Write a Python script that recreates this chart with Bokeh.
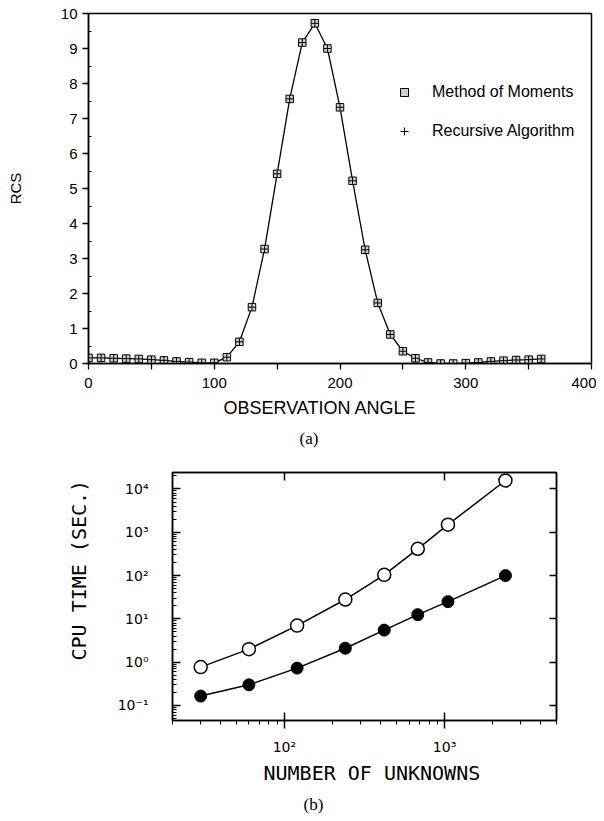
from bokeh.plotting import figure
from bokeh.models import (Range1d, FixedTicker, CustomJSTickFormatter, Legend,
                          LegendItem, Title, LogAxis)
from bokeh.embed import file_html
from bokeh.resources import INLINE

# ---------------- panel (a) data ----------------
angle = [0, 10, 20, 30, 40, 50, 60, 70, 80, 90, 100, 110, 120, 130, 140, 150,
         160, 170, 180, 190, 200, 210, 220, 230, 240, 250, 260, 270, 280, 290,
         300, 310, 320, 330, 340, 350, 360]
rcs_mom = [0.16, 0.16, 0.15, 0.14, 0.13, 0.11, 0.09, 0.06, 0.04, 0.02, 0.02,
           0.18, 0.62, 1.61, 3.27, 5.42, 7.56, 9.17, 9.72, 9.00, 7.32, 5.22,
           3.25, 1.73, 0.83, 0.35, 0.15, 0.03, 0.00, 0.00, 0.01, 0.03, 0.06,
           0.08, 0.10, 0.11, 0.13]
rcs_rec = [0.16, 0.16, 0.15, 0.14, 0.13, 0.11, 0.09, 0.06, 0.04, 0.02, 0.02,
           0.18, 0.62, 1.61, 3.27, 5.42, 7.56, 9.17, 9.72, 9.00, 7.32, 5.22,
           3.25, 1.73, 0.83, 0.35, 0.15, 0.03, 0.00, 0.00, 0.01, 0.03, 0.06,
           0.08, 0.10, 0.11, 0.13]
x_ticks_a = [0, 50, 100, 150, 200, 250, 300, 350, 400]
y_ticks_a = [0, 1, 2, 3, 4, 5, 6, 7, 8, 9, 10]

# ---------------- panel (b) data ----------------
unknowns = [30, 60, 120, 240, 420, 680, 1050, 2400]
cpu_open = [0.77, 2.0, 7.0, 28.0, 104.0, 415.0, 1500.0, 15700.0]
cpu_filled = [0.165, 0.30, 0.73, 2.1, 5.5, 12.5, 25.0, 100.0]
y_ticks_b = [0.1, 1, 10, 100, 1000, 10000]
x_ticks_b = [100, 1000]

SANS = "Liberation Sans"
SERIF = "Liberation Serif"
MONO = "DejaVu Sans Mono"

# ================= panel (a) =================
p1 = figure(frame_width=503, frame_height=350,
            x_range=Range1d(0, 400), y_range=Range1d(0, 10),
            output_backend="svg", toolbar_location=None,
            min_border_left=88, min_border_right=5,
            min_border_top=13, min_border_bottom=90)
p1.grid.visible = False
p1.outline_line_color = "black"
p1.outline_line_width = 1.5
p1.background_fill_color = "white"
p1.border_fill_color = "white"

r_line = p1.line(angle, rcs_mom, line_color="black", line_width=1.3)
r_sq = p1.scatter(angle, rcs_mom, marker="square", size=7.5,
                  fill_color="#cfcfcf", line_color="black", line_width=1)
r_cr = p1.scatter(angle, rcs_rec, marker="cross", size=7.5,
                  line_color="black", line_width=1)

xa = p1.xaxis[0]
xa.ticker = FixedTicker(ticks=x_ticks_a)
xa.formatter = CustomJSTickFormatter(
    code="return (Math.round(tick) % 100 === 0) ? tick.toFixed(0) : '';")
ya = p1.yaxis[0]
ya.ticker = FixedTicker(ticks=y_ticks_a,
                        minor_ticks=[t + 0.5 for t in y_ticks_a[:-1]])
for ax in (xa, ya):
    ax.axis_line_width = 1.5
    ax.axis_line_color = "black"
    ax.major_tick_line_color = "black"
    ax.major_tick_line_width = 1.3
    ax.major_tick_in = 0
    ax.major_tick_out = 6
    ax.major_label_text_font = SANS
    ax.major_label_text_font_size = "15px"
    ax.major_label_text_color = "black"
xa.major_label_standoff = 8
ya.major_label_standoff = 5
xa.minor_tick_in = 0
xa.minor_tick_out = 0
ya.minor_tick_in = 3
ya.minor_tick_out = 0
ya.minor_tick_line_color = "black"

ya.axis_label = "RCS"
ya.axis_label_text_font = SANS
ya.axis_label_text_font_size = "15px"
ya.axis_label_text_font_style = "normal"
ya.axis_label_text_color = "black"
ya.axis_label_standoff = 34

p1.add_layout(Title(text="OBSERVATION ANGLE", align="left", offset=135,
                    text_font=SANS, text_font_size="18px", text_color="black",
                    text_font_style="normal", standoff=10), "below")
p1.add_layout(Title(text="(a)", align="left", offset=211,
                    text_font=SERIF, text_font_size="17px", text_color="black",
                    text_font_style="normal", standoff=8), "below")

legend = Legend(items=[LegendItem(label="Method of Moments", renderers=[r_sq]),
                       LegendItem(label="Recursive Algorithm", renderers=[r_cr])],
                location=(306, 222))
legend.border_line_color = None
legend.background_fill_alpha = 0
legend.padding = 0
legend.margin = 0
legend.spacing = 19
legend.label_standoff = 18
legend.glyph_width = 20
legend.glyph_height = 20
legend.label_height = 20
legend.label_text_font = SANS
legend.label_text_font_size = "16px"
legend.label_text_color = "black"
p1.add_layout(legend)

# ================= panel (b) =================
sup_code = """
const e = Math.round(Math.log10(tick));
const m = {"-":"⁻","0":"⁰","1":"¹","2":"²","3":"³","4":"⁴","5":"⁵","6":"⁶","7":"⁷","8":"⁸","9":"⁹"};
return "10" + String(e).split("").map(c => m[c]).join("");
"""

p2 = figure(x_axis_type="log", y_axis_type="log",
            x_range=Range1d(20, 5000), y_range=Range1d(0.045, 24000),
            frame_width=384, frame_height=248,
            output_backend="svg", toolbar_location=None,
            min_border_left=172, min_border_right=32,
            min_border_top=19, min_border_bottom=90)
p2.grid.visible = False
p2.outline_line_color = "black"
p2.outline_line_width = 1.5

p2.line(unknowns, cpu_open, line_color="black", line_width=1.5)
p2.line(unknowns, cpu_filled, line_color="black", line_width=1.5)
p2.scatter(unknowns, cpu_open, marker="circle", size=13, fill_color="white",
           line_color="black", line_width=1.5)
p2.scatter(unknowns, cpu_filled, marker="circle", size=12, fill_color="black",
           line_color="black", line_width=1)

minor_x = [m * 10 ** e for e in (1, 2, 3) for m in range(2, 10)]
minor_y = [m * 10.0 ** e for e in (-2, -1, 0, 1, 2, 3, 4) for m in range(2, 10)]

xb = p2.xaxis[0]
xb.ticker = FixedTicker(ticks=x_ticks_b, minor_ticks=minor_x)
xb.formatter = CustomJSTickFormatter(code=sup_code)
xb.major_tick_in = 8
xb.major_tick_out = 8
xb.minor_tick_in = 0
xb.minor_tick_out = 4
xb.major_label_standoff = 10

yb = p2.yaxis[0]
yb.ticker = FixedTicker(ticks=y_ticks_b, minor_ticks=minor_y)
yb.formatter = CustomJSTickFormatter(code=sup_code)
yb.major_tick_in = 8
yb.major_tick_out = 0
yb.minor_tick_in = 4
yb.minor_tick_out = 0
yb.major_label_standoff = 24

for ax in (xb, yb):
    ax.axis_line_width = 1.5
    ax.axis_line_color = "black"
    ax.major_tick_line_color = "black"
    ax.major_tick_line_width = 1.5
    ax.minor_tick_line_color = "black"
    ax.major_label_text_font = "DejaVu Sans"
    ax.major_label_text_font_size = "14px"
    ax.major_label_text_color = "black"

right_ax = LogAxis(ticker=FixedTicker(ticks=y_ticks_b),
                   formatter=CustomJSTickFormatter(code="return '';"),
                   major_tick_in=7, major_tick_out=0,
                   minor_tick_in=0, minor_tick_out=0,
                   axis_line_width=1.5, major_tick_line_width=1.5)
p2.add_layout(right_ax, "right")
top_ax = LogAxis(ticker=FixedTicker(ticks=x_ticks_b),
                 formatter=CustomJSTickFormatter(code="return '';"),
                 major_tick_in=8, major_tick_out=0,
                 minor_tick_in=0, minor_tick_out=0,
                 axis_line_width=1.5, major_tick_line_width=1.5)
p2.add_layout(top_ax, "above")

p2.add_layout(Title(text="NUMBER OF UNKNOWNS", align="left", offset=91,
                    text_font=MONO, text_font_size="20px", text_color="black",
                    text_font_style="normal", standoff=3), "below")
p2.add_layout(Title(text="(b)", align="left", offset=131,
                    text_font=SERIF, text_font_size="17px", text_color="black",
                    text_font_style="normal", standoff=13), "below")
p2.add_layout(Title(text="CPU TIME (SEC.)", align="left", offset=60,
                    text_font=MONO, text_font_size="20px", text_color="black",
                    text_font_style="normal", standoff=48), "left")

open("out.html", "w").write(file_html([p1, p2], INLINE))
